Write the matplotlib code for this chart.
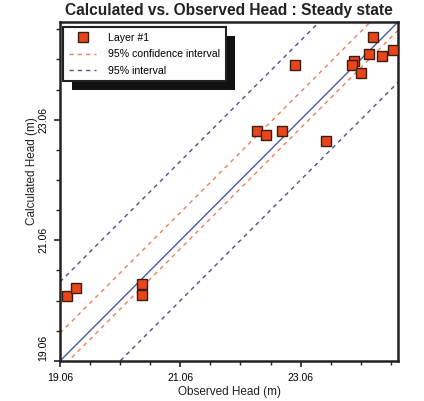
import matplotlib
matplotlib.use("Agg")
import matplotlib.pyplot as plt
from matplotlib.patches import Rectangle
from matplotlib.ticker import FixedLocator

plt.rcParams["font.family"] = ["Liberation Sans", "DejaVu Sans"]

observed = [19.17, 19.33, 20.43, 20.43, 22.34, 22.49, 22.75, 23.48,
            22.96, 23.94, 23.92, 24.07, 24.19, 24.27, 24.42, 24.60]
calculated = [20.13, 20.27, 20.33, 20.16, 22.87, 22.81, 22.88, 22.70,
              23.96, 24.04, 23.96, 23.84, 24.15, 24.43, 24.11, 24.22]

# offsets of the interval lines from the 1:1 line
conf_upper, conf_lower = 0.46, -0.14
pred_upper, pred_lower = 1.31, -1.00

axis_min, axis_max = 19.06, 24.68
major_ticks = [19.06, 21.06, 23.06]
tick_labels = ["19.06", "21.06", "23.06"]

fig = plt.figure(figsize=(4.24, 4.01), dpi=100)
ax = fig.add_axes([0.1415, 0.0998, 0.7972, 0.8454])

xs = [axis_min, axis_max]
ax.plot(xs, xs, color="#4a58a8", lw=1.0, zorder=2)
ax.plot(xs, [v + conf_upper for v in xs], color="#e8805c", lw=1.0,
        dashes=(3, 3), label="95% confidence interval", zorder=2)
ax.plot(xs, [v + conf_lower for v in xs], color="#e8805c", lw=1.0,
        dashes=(3, 3), zorder=2)
ax.plot(xs, [v + pred_upper for v in xs], color="#4a5488", lw=1.0,
        dashes=(3, 3), label="95% interval", zorder=2)
ax.plot(xs, [v + pred_lower for v in xs], color="#4a5488", lw=1.0,
        dashes=(3, 3), zorder=2)
ax.plot(observed, calculated, ls="none", marker="s", ms=7.5,
        mfc="#e8461a", mec="#3a1e10", mew=1.0, label="Layer #1", zorder=3)

ax.set_xlim(axis_min, axis_max)
ax.set_ylim(axis_min, axis_max)
minor = [axis_min + 0.5 * i for i in range(12)]
ax.xaxis.set_major_locator(FixedLocator(major_ticks))
ax.yaxis.set_major_locator(FixedLocator(major_ticks))
ax.xaxis.set_minor_locator(FixedLocator(minor))
ax.yaxis.set_minor_locator(FixedLocator(minor))
ax.set_xticklabels(tick_labels)
ax.set_yticklabels(tick_labels, rotation=90, va="center")
ax.get_yticklabels()[0].set_va("bottom")
ax.tick_params(which="major", direction="out", length=4.5, width=1.2,
               labelsize=7.5, pad=4, color="#222222")
ax.tick_params(which="minor", direction="out", length=3, width=1.0,
               color="#222222")
ax.tick_params(axis="y", pad=4)

for s in ax.spines.values():
    s.set_linewidth(1.8)
    s.set_color("#222222")

ax.set_title("Calculated vs. Observed Head : Steady state", fontsize=11.2,
             fontweight="bold", pad=5, color="#222222")
ax.set_xlabel("Observed Head (m)", fontsize=8.5, labelpad=2, color="#222222")
ax.set_ylabel("Calculated Head (m)", fontsize=8.5, color="#222222")
ax.yaxis.set_label_coords(-0.064, 0.56)

handles, labels = ax.get_legend_handles_labels()
order = [2, 0, 1]
leg = ax.legend([handles[i] for i in order], [labels[i] for i in order],
                loc="upper left", bbox_to_anchor=(0.009, 0.985),
                prop={"size": 7.6}, fancybox=False, framealpha=1,
                edgecolor="#222222", handlelength=2.6, borderpad=0.55,
                labelspacing=0.6, handletextpad=1.1, borderaxespad=0)
leg.get_frame().set_linewidth(1.5)
leg.set_zorder(6)

fig.canvas.draw()
bb = leg.get_window_extent()
shadow = Rectangle((bb.x0 + 9, bb.y0 - 9), bb.width, bb.height,
                   transform=None, facecolor="#111111", edgecolor="none",
                   zorder=5)
ax.add_artist(shadow)

fig.savefig("out.png", dpi=100)
